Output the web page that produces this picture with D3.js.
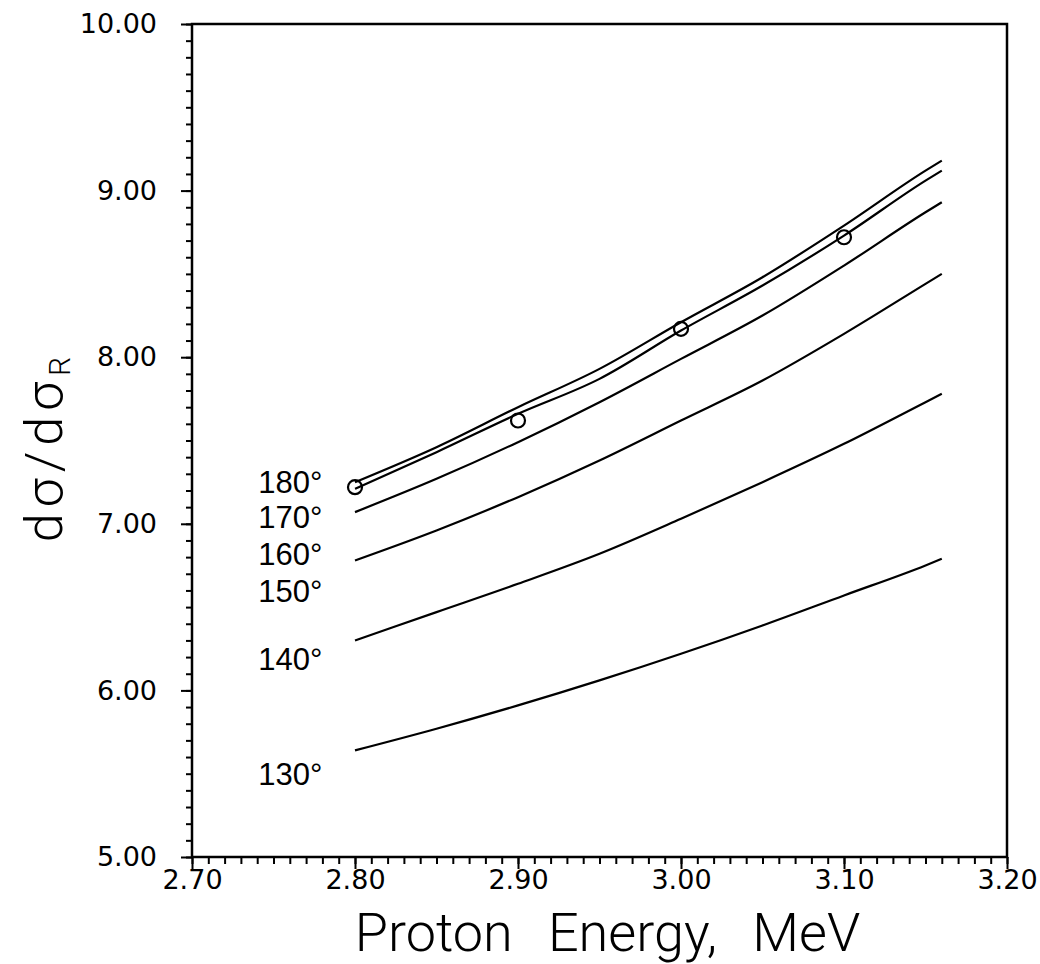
<!DOCTYPE html>
<html>
<head>
<meta charset="utf-8">
<script src="https://cdn.jsdelivr.net/npm/d3@7"></script>
<style>
    body { margin: 0; background: #fff; }
    .tick text { font-family: "DejaVu Sans", sans-serif; }
</style>
</head>
<body>
<div id="chart-area"></div>
<script>

// Proton energy (MeV) where the curves were read
var energy = [2.80, 2.85, 2.90, 2.95, 3.00, 3.05, 3.10, 3.15, 3.16];

// d sigma / d sigma_R for each scattering angle
var ratio180 = [7.25, 7.46, 7.70, 7.93, 8.21, 8.48, 8.79, 9.12, 9.18];
var ratio170 = [7.21, 7.43, 7.66, 7.87, 8.16, 8.43, 8.73, 9.06, 9.12];
var ratio160 = [7.07, 7.27, 7.49, 7.73, 7.99, 8.25, 8.55, 8.87, 8.93];
var ratio150 = [6.78, 6.96, 7.16, 7.38, 7.62, 7.86, 8.14, 8.44, 8.50];
var ratio140 = [6.30, 6.47, 6.64, 6.82, 7.03, 7.25, 7.48, 7.73, 7.78];
var ratio130 = [5.64, 5.77, 5.91, 6.06, 6.22, 6.39, 6.57, 6.75, 6.79];

// measured points (open circles)
var pointEnergy = [2.80, 2.90, 3.00, 3.10];
var pointRatio = [7.22, 7.62, 8.17, 8.72];

// angle labels and where they sit on the y scale
var angleLabels = ["180°", "170°", "160°", "150°", "140°", "130°"];
var labelRatio = [7.25, 7.04, 6.82, 6.60, 6.19, 5.50];

var xTicks = [2.70, 2.80, 2.90, 3.00, 3.10, 3.20];
var yTicks = [5.00, 6.00, 7.00, 8.00, 9.00, 10.00];

var curves = [ratio180, ratio170, ratio160, ratio150, ratio140, ratio130];

var margin = { top: 24, right: 33, bottom: 107, left: 192 };
var width = 1040 - margin.left - margin.right,
    height = 964 - margin.top - margin.bottom;

var svg = d3.select("#chart-area").append("svg")
    .attr("width", 1040)
    .attr("height", 964)
    .append("g")
    .attr("transform", "translate(" + margin.left + "," + margin.top + ")");

var x = d3.scaleLinear().domain([2.70, 3.20]).range([0, width]);
var y = d3.scaleLinear().domain([5.00, 10.00]).range([height, 0]);

// minor ticks first, then the labelled ones
svg.append("g")
    .attr("transform", "translate(0," + height + ")")
    .call(d3.axisBottom(x).tickValues(d3.range(270, 321).map(function (d) { return d / 100; }))
        .tickSize(7).tickFormat(""));

svg.append("g")
    .attr("class", "x-axis")
    .attr("transform", "translate(0," + height + ")")
    .call(d3.axisBottom(x).tickValues(xTicks).tickSize(12).tickPadding(1)
        .tickFormat(d3.format(".2f")));

svg.append("g")
    .call(d3.axisLeft(y).tickValues(d3.range(50, 101).map(function (d) { return d / 10; }))
        .tickSize(6).tickFormat(""));

svg.append("g")
    .attr("class", "y-axis")
    .call(d3.axisLeft(y).tickValues(yTicks).tickSize(11).tickPadding(24)
        .tickFormat(d3.format(".2f")));

svg.selectAll(".domain").remove();
svg.selectAll(".tick line").attr("stroke", "#000").attr("stroke-width", 2);

svg.selectAll(".x-axis .tick text")
    .attr("font-size", 27)
    .attr("fill", "#000");

svg.selectAll(".y-axis .tick text")
    .attr("font-size", 27)
    .attr("fill", "#000");

// frame
svg.append("rect")
    .attr("x", 0).attr("y", 0)
    .attr("width", width).attr("height", height)
    .attr("fill", "none")
    .attr("stroke", "#000")
    .attr("stroke-width", 2.5);

// curves
var line = d3.line()
    .x(function (d, i) { return x(energy[i]); })
    .y(function (d) { return y(d); })
    .curve(d3.curveMonotoneX);

svg.selectAll(".curve")
    .data(curves)
    .enter().append("path")
    .attr("class", "curve")
    .attr("d", line)
    .attr("fill", "none")
    .attr("stroke", "#000")
    .attr("stroke-width", 2.2);

// open circles
svg.selectAll(".point")
    .data(pointRatio)
    .enter().append("circle")
    .attr("class", "point")
    .attr("cx", function (d, i) { return x(pointEnergy[i]); })
    .attr("cy", function (d) { return y(d); })
    .attr("r", 7)
    .attr("fill", "none")
    .attr("stroke", "#000")
    .attr("stroke-width", 2.2);

// angle labels
svg.selectAll(".angle")
    .data(angleLabels)
    .enter().append("text")
    .attr("class", "angle")
    .attr("x", x(2.78))
    .attr("y", function (d, i) { return y(labelRatio[i]); })
    .attr("dy", "0.36em")
    .attr("text-anchor", "end")
    .attr("font-family", "Liberation Sans, sans-serif")
    .attr("font-size", 31)
    .text(function (d) { return d; });

// axis titles
svg.append("text")
    .attr("x", width / 2 + 8)
    .attr("y", height + 94)
    .attr("text-anchor", "middle")
    .attr("font-family", "Roboto, sans-serif")
    .attr("font-weight", 300)
    .attr("font-size", 54)
    .attr("word-spacing", 22)
    .text("Proton Energy, MeV");

var yTitle = svg.append("text")
    .attr("transform", "translate(-130," + (height / 2 + 6) + ") rotate(-90)")
    .attr("text-anchor", "middle")
    .attr("font-family", "Roboto, sans-serif")
    .attr("font-weight", 300)
    .attr("font-size", 52)
    .attr("letter-spacing", 6);

yTitle.append("tspan").text("dσ/dσ");
yTitle.append("tspan").attr("font-size", 30).attr("dy", 8).text("R");

</script>
</body>
</html>
